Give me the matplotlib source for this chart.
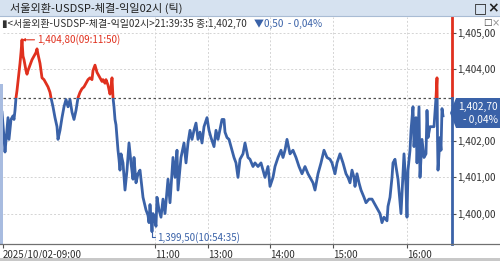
import numpy as np
import matplotlib.pyplot as plt
from matplotlib.patches import Rectangle, Polygon
from matplotlib.lines import Line2D

plt.rcParams['font.family'] = ['Noto Sans CJK KR', 'DejaVu Sans']

# tick number (x) and traded price
tick_no = [2, 4, 5, 8, 9, 11, 13, 14, 15, 16, 17, 19, 20, 21, 22, 23, 24, 25, 26, 27,
           28, 30, 32, 34, 36, 37, 38, 40, 42, 44, 46, 48, 50, 51, 53, 55, 57, 58, 60, 62,
           64, 66, 68, 70, 72, 74, 76, 78, 80, 82, 84, 86, 88, 90, 92, 93, 95, 97, 99, 100,
           102, 103, 105, 106, 108, 110, 111, 112, 113, 114, 115, 116, 118, 119, 120, 121, 123, 125, 127, 129,
           131, 133, 134, 136, 138, 140, 143, 146, 148, 149, 150, 152, 153, 155, 156, 157, 159, 161, 163, 165,
           168, 170, 173, 175, 177, 178, 181, 184, 186, 188, 190, 192, 194, 196, 198, 200, 202, 204, 207, 209,
           211, 214, 216, 218, 222, 224, 225, 227, 229, 231, 234, 236, 238, 240, 243, 245, 248, 250, 253, 255,
           258, 261, 263, 265, 268, 270, 273, 275, 278, 281, 283, 285, 287, 290, 293, 296, 299, 302, 305, 308,
           311, 313, 315, 318, 321, 324, 327, 330, 332, 335, 337, 340, 343, 346, 348, 350, 352, 354, 355, 357,
           359, 361, 364, 366, 369, 372, 376, 380, 382, 384, 387, 388, 390, 392, 393, 395, 396, 398, 400, 401,
           404, 406, 407, 408, 410, 411, 413, 414, 416, 417, 419, 420, 422, 424, 426, 427, 428, 430, 434, 436,
           437, 437.5, 438, 440, 441, 442, 443]
price = [1402.80, 1402.10, 1401.70, 1402.65, 1402.05, 1402.60, 1402.70, 1402.60, 1402.85, 1403.20,
         1403.40, 1403.90, 1404.15, 1404.45, 1404.80, 1404.35, 1404.25, 1404.10, 1403.95, 1403.85,
         1403.95, 1404.10, 1404.25, 1404.35, 1404.45, 1404.55, 1404.40, 1404.15, 1403.75, 1403.70,
         1403.60, 1403.50, 1403.35, 1403.20, 1402.95, 1402.65, 1402.40, 1402.05, 1402.30, 1402.65,
         1402.95, 1403.15, 1402.95, 1403.15, 1402.80, 1402.60, 1402.85, 1403.20, 1403.35, 1403.45,
         1403.50, 1403.60, 1403.70, 1403.75, 1403.70, 1403.95, 1404.10, 1403.90, 1403.80, 1403.75,
         1403.65, 1403.70, 1403.60, 1403.70, 1403.55, 1403.30, 1403.45, 1403.75, 1403.20, 1402.95,
         1402.60, 1402.45, 1401.75, 1401.50, 1401.20, 1401.65, 1401.40, 1400.65, 1401.20, 1401.95,
         1401.40, 1400.95, 1401.55, 1400.85, 1401.10, 1401.20, 1400.45, 1400.10, 1399.95, 1399.75,
         1400.25, 1399.50, 1400.00, 1399.80, 1399.65, 1400.45, 1400.10, 1399.90, 1400.40, 1400.00,
         1400.95, 1400.30, 1401.55, 1401.00, 1401.75, 1400.65, 1401.55, 1401.95, 1401.40, 1401.95,
         1402.30, 1402.05, 1402.30, 1402.50, 1402.05, 1402.25, 1401.95, 1402.40, 1402.65, 1402.30,
         1402.10, 1401.85, 1402.30, 1402.05, 1402.60, 1402.60, 1402.25, 1402.10, 1402.05, 1401.85,
         1401.55, 1401.40, 1401.00, 1401.50, 1401.65, 1401.95, 1401.55, 1401.50, 1401.30, 1401.40,
         1401.30, 1401.40, 1401.20, 1401.00, 1401.30, 1400.75, 1401.00, 1401.30, 1401.55, 1401.75,
         1401.55, 1401.75, 1402.05, 1401.65, 1401.75, 1401.55, 1401.30, 1401.10, 1401.30, 1401.10,
         1400.95, 1400.85, 1400.65, 1401.10, 1401.40, 1401.75, 1401.55, 1401.50, 1401.40, 1401.10,
         1401.40, 1401.65, 1401.40, 1401.10, 1401.00, 1400.85, 1401.20, 1401.00, 1400.75, 1401.10,
         1400.85, 1400.65, 1400.45, 1400.30, 1400.40, 1400.40, 1400.20, 1400.00, 1399.75, 1399.90,
         1399.80, 1400.20, 1400.45, 1401.00, 1401.40, 1401.50, 1401.30, 1400.95, 1400.30, 1400.00,
         1401.65, 1400.75, 1399.90, 1401.20, 1401.75, 1402.30, 1402.95, 1401.85, 1402.65, 1401.40,
         1402.95, 1401.00, 1402.05, 1401.55, 1401.65, 1402.85, 1402.10, 1402.40, 1402.40, 1403.20,
         1403.75, 1402.10, 1401.20, 1402.10, 1401.75, 1402.90, 1402.70]

prev_close = 1403.20
time_ticks = [3, 155, 208, 270, 333, 407]
time_labels = ['2025/10/02-09:00', '11:00', '13:00', '14:00', '15:00', '16:00']
y_ticks = [1400, 1401, 1402, 1403, 1404, 1405]
# 1,403,00 sits behind the current price box in the original
y_labels = ['1,400,00', '1,401,00', '1,402,00', '', '1,404,00', '1,405,00']

blue = '#3a62a8'
red = '#e0301e'
W, H = 500, 261

fig = plt.figure(figsize=(5, 2.61), dpi=100)
fig.patch.set_facecolor('white')

# title bar
fig.add_artist(Rectangle((0, 1 - 16 / H), 1, 16 / H, transform=fig.transFigure,
                         facecolor='#d6e2f0', edgecolor='none'))
fig.add_artist(Line2D([0, 1], [1 - 16 / H, 1 - 16 / H], transform=fig.transFigure,
                      color='#a9bcd4', lw=0.8))
fig.text(10 / W, 1 - 8 / H, '서울외환-USDSP-체결-익일02시 (틱)', fontsize=8, color='#202020',
         va='center', ha='left')
fig.text(480 / W, 1 - 8 / H, '□', fontsize=10, color='#202020', va='center', ha='center',
         family=['DejaVu Sans'], fontweight='bold')
fig.text(493 / W, 1 - 8 / H, '×', fontsize=10, color='#202020', va='center', ha='center',
         family=['DejaVu Sans'], fontweight='bold')

# info line
fig.text(2 / W, 1 - 24 / H, '▮<서울외환-USDSP-체결-익일02시>21:39:35 종:1,402,70', fontsize=7.2,
         color='#303030', va='center', ha='left')
fig.text(254 / W, 1 - 24 / H, '▼0,50  - 0,04%', fontsize=7.2, color=blue, va='center', ha='left')
fig.text(487 / W, 1 - 23 / H, '□', fontsize=6.5, color='#404040', va='center', ha='center',
         family=['DejaVu Sans'])
fig.text(496 / W, 1 - 23 / H, '×', fontsize=7, color='#909090', va='center', ha='center',
         family=['DejaVu Sans'])

ax = fig.add_axes([3 / W, 17 / H, 449 / W, 227 / H])
ax.set_facecolor('none')
ax.set_xlim(3, 452)
ax.set_ylim(1399.16, 1405.43)

for s in ['top', 'left', 'right', 'bottom']:
    ax.spines[s].set_visible(False)

# grid
for v in y_ticks:
    ax.axhline(v, color='#d4d4d4', lw=0.7, ls=(0, (2, 2)), zorder=0)
for t in time_ticks[1:]:
    ax.axvline(t, color='#d4d4d4', lw=0.7, ls=(0, (2, 2)), zorder=0)

ax.axhline(prev_close, color='#505050', lw=0.9, ls=(0, (2, 2)), zorder=1)

# price line, red above previous close, blue below
l_red, = ax.plot(tick_no, price, color=red, lw=2, zorder=3)
l_blue, = ax.plot(tick_no, price, color=blue, lw=2, zorder=3)
top_clip = Rectangle((0, prev_close), 1000, 10, transform=ax.transData)
bot_clip = Rectangle((0, 1390), 1000, prev_close - 1390, transform=ax.transData)
l_red.set_clip_path(top_clip)
l_blue.set_clip_path(bot_clip)

# current time marker
ax.plot([452, 452], [prev_close, 1405.43], color=red, lw=2, clip_on=False, zorder=4)
ax.plot([452, 452], [1399.16, prev_close], color=blue, lw=2, clip_on=False, zorder=4)

# high / low annotations
i_hi = int(np.argmax(price))
i_lo = int(np.argmin(price))
ax.annotate('1,404,80(09:11:50)', xy=(tick_no[i_hi], price[i_hi]), xytext=(11, 0),
            textcoords='offset points', color=red, fontsize=7, va='center', ha='left',
            arrowprops=dict(arrowstyle='-|>', color=red, lw=0.8, mutation_scale=4,
                            shrinkA=0, shrinkB=0))
ax.annotate('1,399,50(10:54:35)', xy=(tick_no[i_lo], price[i_lo]), xytext=(4, -4),
            textcoords='offset points', color=blue, fontsize=7, va='center', ha='left',
            arrowprops=dict(arrowstyle='-', color=blue, lw=0.8, shrinkA=0, shrinkB=0,
                            connectionstyle='angle,angleA=0,angleB=90,rad=0'))

# right axis
ax.yaxis.tick_right()
ax.set_yticks(y_ticks)
ax.set_yticklabels(y_labels)
ax.tick_params(axis='y', length=3, width=0.8, color='#505050', pad=1, labelsize=7,
               labelcolor='#303030')

# bottom axis
ax.set_xticks(time_ticks)
ax.set_xticklabels(time_labels)
for lab in ax.get_xticklabels():
    lab.set_ha('left')
ax.tick_params(axis='x', length=3, width=0.8, color='#505050', pad=1, labelsize=7,
               labelcolor='#303030')

fig.add_artist(Line2D([0, 1], [17 / H, 17 / H], transform=fig.transFigure, color='#707070', lw=0.9))
fig.add_artist(Rectangle((0, 0), 1, 3 / H, transform=fig.transFigure, facecolor='#c8c8c8',
                         edgecolor='none'))
fig.add_artist(Rectangle((0, 17 / H), 2.5 / W, 160 / H, transform=fig.transFigure,
                         facecolor='#a8bce0', edgecolor='none'))

# current price box
py = 1 - 113 / H
box = Polygon([(450 / W, py), (456 / W, py + 15 / H), (500 / W, py + 15 / H),
               (500 / W, py - 15 / H), (456 / W, py - 15 / H)],
              closed=True, transform=fig.transFigure, facecolor=blue, edgecolor='none', zorder=10)
fig.add_artist(box)
fig.text(498 / W, py + 6 / H, '1,402,70', color='white', fontsize=7.3, ha='right', va='center',
         zorder=11)
fig.text(498 / W, py - 7 / H, '- 0,04%', color='white', fontsize=7.3, ha='right', va='center',
         zorder=11)

fig.savefig('out.png', dpi=100)
